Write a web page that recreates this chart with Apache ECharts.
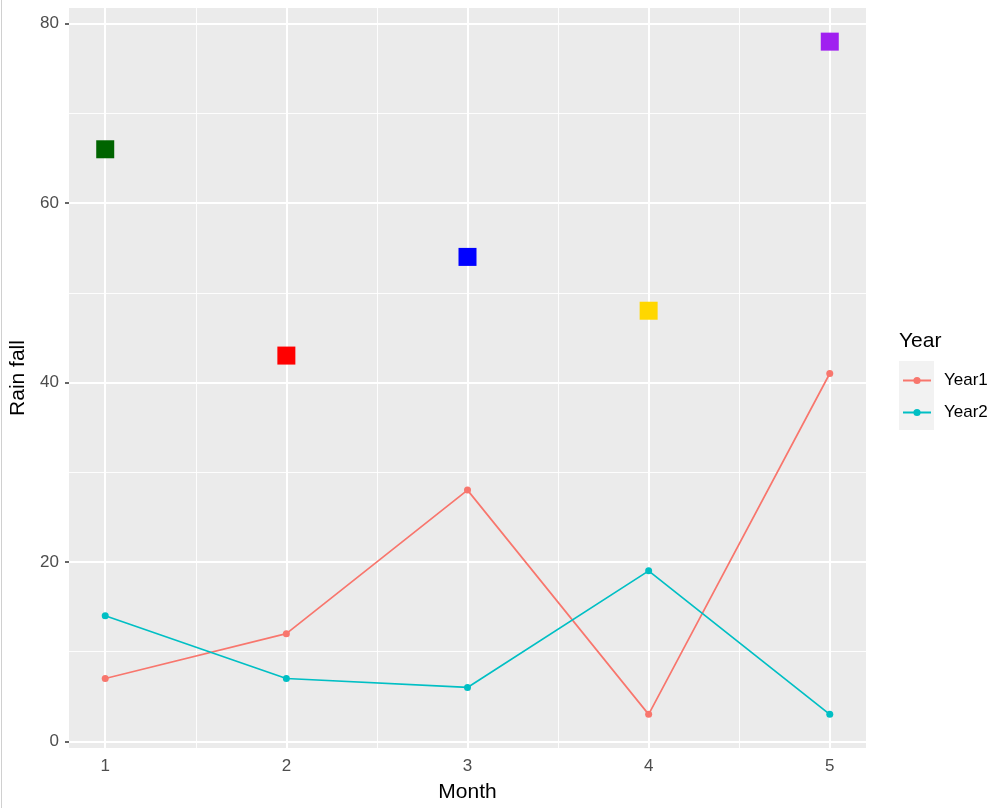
<!DOCTYPE html>
<html>
<head>
<meta charset="utf-8">
<script src="https://cdn.jsdelivr.net/npm/echarts@6/dist/echarts.min.js"></script>
<style>html,body{margin:0;padding:0;background:#fff}#c{width:1000px;height:808px}</style>
</head>
<body>
<div id="c"></div>
<script>
const months = [1, 2, 3, 4, 5];
const year1 = [7, 12, 28, 3, 41];
const year2 = [14, 7, 6, 19, 3];
const squareValues = [66, 43, 54, 48, 78];
const squareColors = ['#006400', '#FF0000', '#0000FF', '#FFD700', '#A020F0'];
const xTicks = [1, 2, 3, 4, 5];
const xMinor = [1.5, 2.5, 3.5, 4.5];
const yTicks = [0, 20, 40, 60, 80];
const yMinor = [10, 30, 50, 70];

const chart = echarts.init(document.getElementById('c'));
const font = 'Liberation Sans, Arial, sans-serif';

const gridLines = [];
xMinor.forEach(v => gridLines.push({xAxis: v, lineStyle: {color: '#FFFFFF', width: 1, type: 'solid', opacity: 0.9}}));
yMinor.forEach(v => gridLines.push({yAxis: v, lineStyle: {color: '#FFFFFF', width: 1, type: 'solid', opacity: 0.9}}));
xTicks.forEach(v => gridLines.push({xAxis: v, lineStyle: {color: '#FFFFFF', width: 2, type: 'solid'}}));
yTicks.forEach(v => gridLines.push({yAxis: v, lineStyle: {color: '#FFFFFF', width: 2, type: 'solid'}}));

chart.setOption({
  animation: false,
  backgroundColor: '#FFFFFF',
  grid: {left: 69, right: 134, top: 8, bottom: 58, show: true, backgroundColor: '#EBEBEB', borderWidth: 0},
  xAxis: {
    type: 'value', min: 0.8, max: 5.2,
    name: 'Month', nameLocation: 'middle', nameGap: 34,
    nameTextStyle: {fontFamily: font, fontSize: 21, color: '#000'},
    axisLine: {show: false},
    axisTick: {show: true, length: 4, lineStyle: {color: '#333', width: 1.5}, customValues: xTicks},
    axisLabel: {fontFamily: font, fontSize: 17, color: '#4D4D4D', margin: 10, customValues: xTicks},
    splitLine: {show: false}
  },
  yAxis: {
    type: 'value', min: -0.75, max: 81.75,
    name: 'Rain fall', nameLocation: 'middle', nameGap: 36,
    nameTextStyle: {fontFamily: font, fontSize: 21, color: '#000'},
    axisLine: {show: false},
    axisTick: {show: true, length: 4, lineStyle: {color: '#333', width: 1.5}, customValues: yTicks},
    axisLabel: {fontFamily: font, fontSize: 17, color: '#4D4D4D', margin: 10, customValues: yTicks},
    splitLine: {show: false}
  },
  legend: {
    orient: 'vertical', left: 897, top: 367, itemWidth: 28, itemHeight: 9, itemGap: 15,
    data: ['Year1', 'Year2'],
    textStyle: {fontFamily: font, fontSize: 17, color: '#000', padding: [0, 0, 0, 8]}
  },
  graphic: [
    {type: 'line', shape: {x1: 1.5, y1: 0, x2: 1.5, y2: 808}, style: {stroke: '#D0D0D0', lineWidth: 1}},
    {type: 'rect', shape: {x: 899, y: 361, width: 35, height: 69}, style: {fill: '#F2F2F2'}, z: -1},
    {type: 'text', left: 899, top: 331, style: {text: 'Year', font: '21px ' + font, fill: '#000'}}
  ],
  series: [
    {
      type: 'line', name: '_grid', data: [], z: 1, silent: true,
      markLine: {z: 1, silent: true, symbol: ['none', 'none'], label: {show: false}, animation: false, data: gridLines}
    },
    {
      name: 'Year1', type: 'line', z: 3,
      data: months.map((m, i) => [m, year1[i]]),
      symbol: 'circle', symbolSize: 7,
      lineStyle: {color: '#F8766D', width: 1.7},
      itemStyle: {color: '#F8766D', opacity: 1}
    },
    {
      name: 'Year2', type: 'line', z: 3,
      data: months.map((m, i) => [m, year2[i]]),
      symbol: 'circle', symbolSize: 7,
      lineStyle: {color: '#00BFC4', width: 1.7},
      itemStyle: {color: '#00BFC4', opacity: 1}
    },
    {
      name: 'squares', type: 'scatter', z: 4, symbol: 'rect', symbolSize: 18,
      data: months.map((m, i) => ({value: [m, squareValues[i]], itemStyle: {color: squareColors[i], opacity: 1}}))
    }
  ]
});
</script>
</body>
</html>
